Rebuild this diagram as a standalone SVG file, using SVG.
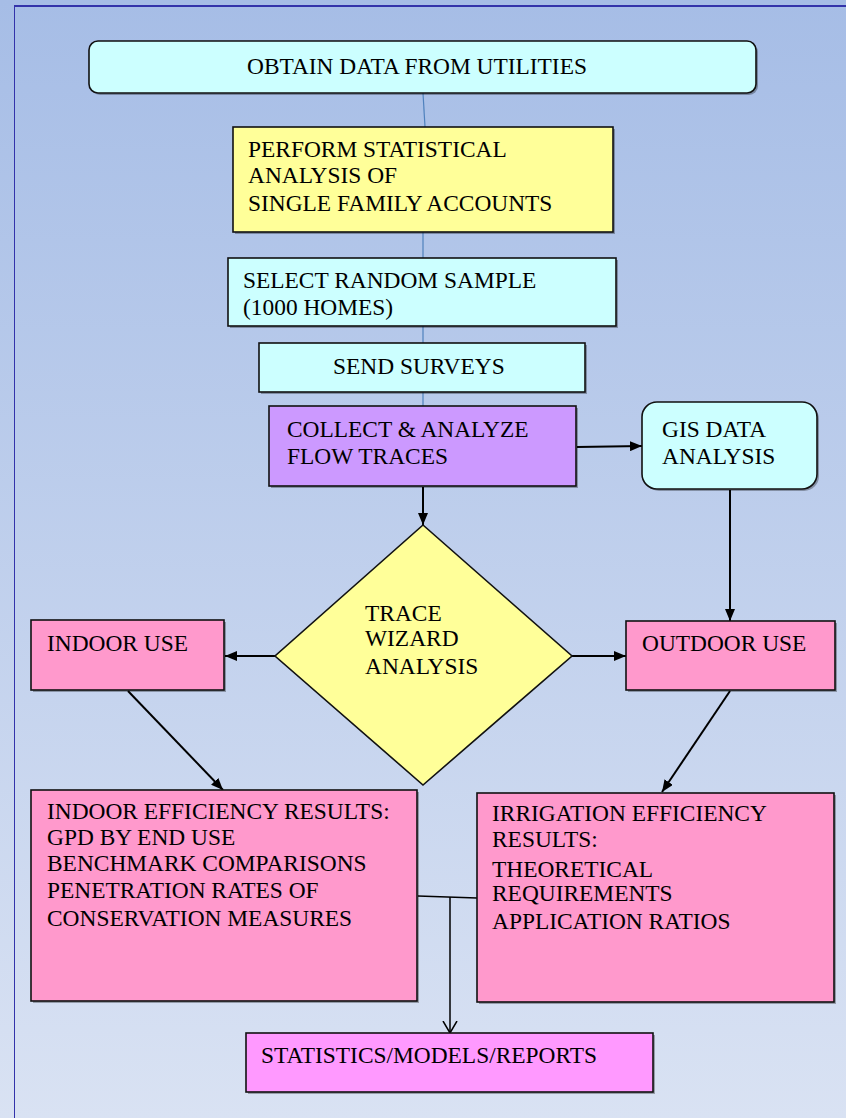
<svg xmlns="http://www.w3.org/2000/svg" width="846" height="1118" viewBox="0 0 846 1118">
<defs>
<linearGradient id="bg" x1="0" y1="0" x2="0" y2="1">
<stop offset="0" stop-color="#a6bde6"/>
<stop offset="1" stop-color="#d9e2f3"/>
</linearGradient>
<marker id="ah" viewBox="0 0 12 10" refX="12" refY="5" markerWidth="12" markerHeight="10" markerUnits="userSpaceOnUse" orient="auto">
<path d="M0,0 L12,5 L0,10 Z" fill="#000"/>
</marker>
<marker id="open" viewBox="0 0 12 16" refX="12" refY="8" markerWidth="12" markerHeight="16" markerUnits="userSpaceOnUse" orient="auto">
<path d="M0,1 L12,8 L0,15" fill="none" stroke="#000" stroke-width="1.5"/>
</marker>
</defs>
<style>
.box{stroke:#111;stroke-width:1.6}
.sh{fill:#000;opacity:0.3}
.cyan{fill:#ccffff}
.yel{fill:#ffff99}
.pur{fill:#cc99ff}
.pink{fill:#ff99cc}
.mag{fill:#ff99ff}
.t{font-family:'Liberation Serif',serif;font-size:23.4px;fill:#000}
.thin{stroke:#4f81bd;stroke-width:1.2;fill:none}
.arr{stroke:#000;stroke-width:2;fill:none}
</style>
<rect width="846" height="1118" fill="url(#bg)"/>
<line x1="14" y1="6" x2="846" y2="6" stroke="#3333aa" stroke-width="2"/>
<line x1="14.5" y1="6" x2="14.5" y2="1118" stroke="#3333aa" stroke-width="1"/>

<g id="connectors">
<line class="thin" x1="423" y1="93" x2="425" y2="127"/>
<line class="thin" x1="423" y1="232" x2="423" y2="258"/>
<line class="thin" x1="423" y1="326" x2="423" y2="343"/>
<line class="thin" x1="423" y1="392" x2="423" y2="406"/>
<line class="arr" x1="577" y1="447" x2="642" y2="446" marker-end="url(#ah)"/>
<line class="arr" x1="423" y1="487" x2="423" y2="525" marker-end="url(#ah)"/>
<line class="arr" x1="730" y1="490" x2="730" y2="621" marker-end="url(#ah)"/>
<line class="arr" x1="275" y1="656" x2="225" y2="656" marker-end="url(#ah)"/>
<line class="arr" x1="572" y1="656" x2="626" y2="656" marker-end="url(#ah)"/>
<line class="arr" x1="128" y1="691" x2="223" y2="790" marker-end="url(#ah)"/>
<line class="arr" x1="730" y1="691" x2="662" y2="792" marker-end="url(#ah)"/>
<polyline points="418,896 477,898" fill="none" stroke="#000" stroke-width="1.5"/>
<line x1="450" y1="897" x2="450" y2="1033" stroke="#000" stroke-width="1.5" marker-end="url(#open)"/>
</g>

<g id="obtain">
<rect class="sh" x="91" y="43" width="667" height="52" rx="9"/>
<rect class="box cyan" x="89" y="41" width="667" height="52" rx="9"/>
<text class="t" x="247" y="74">OBTAIN DATA FROM UTILITIES</text>
</g>

<g id="statistical">
<rect class="sh" x="235" y="129" width="380" height="105"/>
<rect class="box yel" x="233" y="127" width="380" height="105"/>
<text class="t" x="248" y="157">PERFORM STATISTICAL</text>
<text class="t" x="248" y="183">ANALYSIS OF</text>
<text class="t" x="248" y="211">SINGLE FAMILY ACCOUNTS</text>
</g>

<g id="sample">
<rect class="sh" x="230" y="260" width="388" height="68"/>
<rect class="box cyan" x="228" y="258" width="388" height="68"/>
<text class="t" x="243" y="288">SELECT RANDOM SAMPLE</text>
<text class="t" x="243" y="315">(1000 HOMES)</text>
</g>

<g id="surveys">
<rect class="sh" x="261" y="345" width="326" height="49"/>
<rect class="box cyan" x="259" y="343" width="326" height="49"/>
<text class="t" x="333" y="374">SEND SURVEYS</text>
</g>

<g id="collect">
<rect class="sh" x="271" y="408" width="307" height="80"/>
<rect class="box pur" x="269" y="406" width="307" height="80"/>
<text class="t" x="287" y="437">COLLECT &amp; ANALYZE</text>
<text class="t" x="287" y="464">FLOW TRACES</text>
</g>

<g id="gis">
<rect class="sh" x="644" y="404" width="175" height="87" rx="15"/>
<rect class="box cyan" x="642" y="402" width="175" height="87" rx="15"/>
<text class="t" x="662" y="437">GIS DATA</text>
<text class="t" x="662" y="464">ANALYSIS</text>
</g>

<g id="trace">
<polygon points="423,525 572,656 423,785 275,656" fill="#ffff99" stroke="#111" stroke-width="1.6"/>
<text class="t" x="365" y="621">TRACE</text>
<text class="t" x="365" y="646">WIZARD</text>
<text class="t" x="365" y="674">ANALYSIS</text>
</g>

<g id="indoor">
<rect class="sh" x="33" y="622" width="193" height="70"/>
<rect class="box pink" x="31" y="620" width="193" height="70"/>
<text class="t" x="47" y="651">INDOOR USE</text>
</g>

<g id="outdoor">
<rect class="sh" x="628" y="623" width="209" height="69"/>
<rect class="box pink" x="626" y="621" width="209" height="69"/>
<text class="t" x="642" y="651">OUTDOOR USE</text>
</g>

<g id="indoor-results">
<rect class="sh" x="33" y="792" width="386" height="211"/>
<rect class="box pink" x="31" y="790" width="386" height="211"/>
<text class="t" x="47" y="819">INDOOR EFFICIENCY RESULTS:</text>
<text class="t" x="47" y="845">GPD BY END USE</text>
<text class="t" x="47" y="871">BENCHMARK COMPARISONS</text>
<text class="t" x="47" y="898">PENETRATION RATES OF</text>
<text class="t" x="47" y="926">CONSERVATION MEASURES</text>
</g>

<g id="irrigation-results">
<rect class="sh" x="479" y="795" width="357" height="209"/>
<rect class="box pink" x="477" y="793" width="357" height="209"/>
<text class="t" x="492" y="821">IRRIGATION EFFICIENCY</text>
<text class="t" x="492" y="847">RESULTS:</text>
<text class="t" x="492" y="877">THEORETICAL</text>
<text class="t" x="492" y="901">REQUIREMENTS</text>
<text class="t" x="492" y="929">APPLICATION RATIOS</text>
</g>

<g id="reports">
<rect class="sh" x="248" y="1035" width="407" height="59"/>
<rect class="box mag" x="246" y="1033" width="407" height="59"/>
<text class="t" x="261" y="1063">STATISTICS/MODELS/REPORTS</text>
</g>
</svg>
